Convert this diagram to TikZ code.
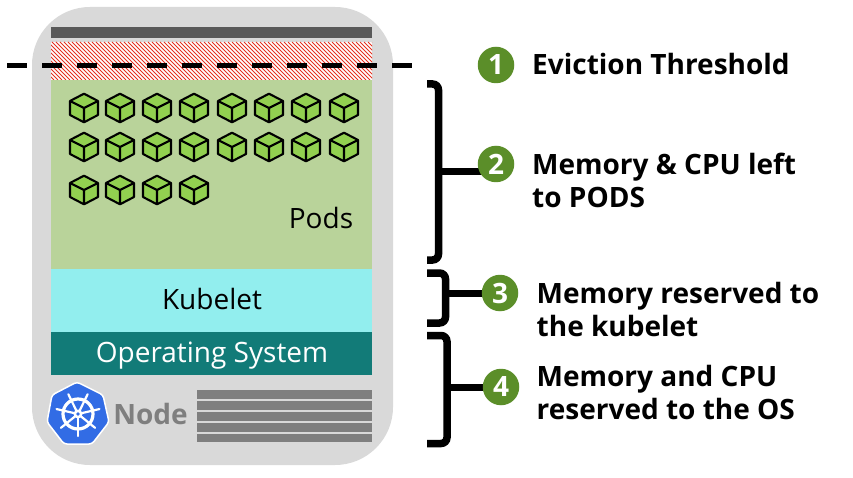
\documentclass[tikz,border=0pt]{standalone}
\usepackage{fontspec}
\setmainfont{Open Sans}
\usetikzlibrary{calc}
\pgfdeclarelayer{behind}
\pgfsetlayers{behind,main}
\definecolor{shell}{HTML}{D9D9D9}
\definecolor{topbar}{HTML}{595959}
\definecolor{podsg}{HTML}{B9D39A}
\definecolor{kubec}{HTML}{92EEEE}
\definecolor{osc}{HTML}{127B78}
\definecolor{greyb}{HTML}{7F7F7F}
\definecolor{badge}{HTML}{5B8E29}
\definecolor{cubeg}{HTML}{92D050}
\definecolor{k8s}{HTML}{326CE5}
\definecolor{hatchc}{HTML}{E5301F}
\tikzset{
  x=1pt,y=-1pt,
  badgec/.style={circle,fill=badge,text=white,minimum size=36.5pt,inner sep=0pt,font=\fontsize{28}{28}\selectfont\bfseries},
  lab/.style={anchor=west,align=left,inner sep=0pt,font=\fontsize{28}{33}\selectfont\bfseries},
  brace/.style={draw=black,line width=7.5pt,rounded corners=6pt},
  tie/.style={draw=black,line width=7pt},
  bandt/.style={anchor=base,inner sep=0pt,font=\fontsize{28}{28}\selectfont},
  cubeline/.style={draw=black,line width=2.1pt,line join=round}
}
\newcommand{\cube}[2]{%
  \begin{scope}[shift={(#1,#2)}]
    \filldraw[fill=cubeg,cubeline] (0,-14.3)--(14,-7)--(14,7)--(0,14.3)--(-14,7)--(-14,-7)--cycle;
    \draw[cubeline] (-14,-7)--(0,0)--(14,-7) (0,0)--(0,14.3);
  \end{scope}}
\begin{document}
\begin{tikzpicture}
\useasboundingbox (0,0) rectangle (853,478);
\begin{pgfonlayer}{behind}
\fill[white] (0,0) rectangle (853,478);
\end{pgfonlayer}
\fill[shell,rounded corners=58pt] (32,7) rectangle (393,465);
\fill[topbar] (51,27) rectangle (372,38);
\begin{scope}
  \clip (51,42) rectangle (372,80);
  \fill[white] (51,42) rectangle (372,80);
  \foreach \i in {0,4,...,372}{\draw[hatchc,line width=0.9pt] (\i,42)--++(38,38);}
\end{scope}
\fill[podsg] (51,80) rectangle (372,269);
\fill[kubec] (51,269) rectangle (372,332);
\fill[osc] (51,332) rectangle (372,375);
\foreach \x in {84,120,157,194,232,269,306,344}{\cube{\x}{108}\cube{\x}{147}}
\foreach \x in {84,120,157,194}{\cube{\x}{190}}
\node[bandt] (pods) at (321,228.5) {Pods};
\node[bandt] (kube) at (212,309) {Kubelet};
\node[bandt,text=white] (os) at (212,362) {Operating System};
\draw[line width=5pt,dash pattern=on 20pt off 15pt] (7,65.5)--(415,65.5);
\foreach \y/\h in {390/9,401/9,412/9,423/9,434/8}{\fill[greyb] (197,\y) rectangle (372,\y+\h);}
\node[bandt,text=greyb,font=\fontsize{28}{28}\selectfont\bfseries] (node) at (150.5,424) {Node};
\begin{scope}[shift={(78,414)}]
  \filldraw[fill=k8s,draw=white,line width=1.5pt,line join=round,rounded corners=3pt] (-1,-32)--(25,-19)--(31,8)--(14,30)--(-14,30)--(-31,8)--(-26,-19)--cycle;
  \draw[white,line width=3.2pt] (0,0) circle (15);
  \foreach \a in {90,141,193,244,296,347,39}{\draw[white,line width=2.2pt,line cap=round] (0,0)--(\a:22);}
  \fill[white] (0,0) circle (4.5);
  \fill[k8s] (0,0) circle (1.8);
\end{scope}
\node[badgec] (b1) at (496,65) {1};
\node[badgec] (b2) at (496,164) {2};
\node[badgec] (b3) at (500,293) {3};
\node[badgec] (b4) at (501,387) {4};
\coordinate (t2) at (427,84);\coordinate (j2) at (438.5,172);\coordinate (e2) at (427,260);
\coordinate (t3) at (427,273);\coordinate (j3) at (445.5,293);\coordinate (e3) at (427,323);
\coordinate (t4) at (427,335.5);\coordinate (j4) at (447,387);\coordinate (e4) at (427,443.5);
\begin{pgfonlayer}{behind}
\draw[brace] (t2) -| (j2) |- (e2);
\draw[tie] (j2) -- (j2 -| b2);
\draw[brace] (t3) -| (j3) |- (e3);
\draw[tie] (j3) -- (b3);
\draw[brace] (t4) -| (j4) |- (e4);
\draw[tie] (j4) -- (b4);
\end{pgfonlayer}
\node[lab] (l1) at (532,64) {Eviction Threshold};
\node[lab] (l2) at (532,180) {Memory \& CPU left\\to PODS};
\node[lab] (l3) at (536.5,309) {Memory reserved to\\the kubelet};
\node[lab] (l4) at (536.5,392) {Memory and CPU\\reserved to the OS};
\end{tikzpicture}
\end{document}
